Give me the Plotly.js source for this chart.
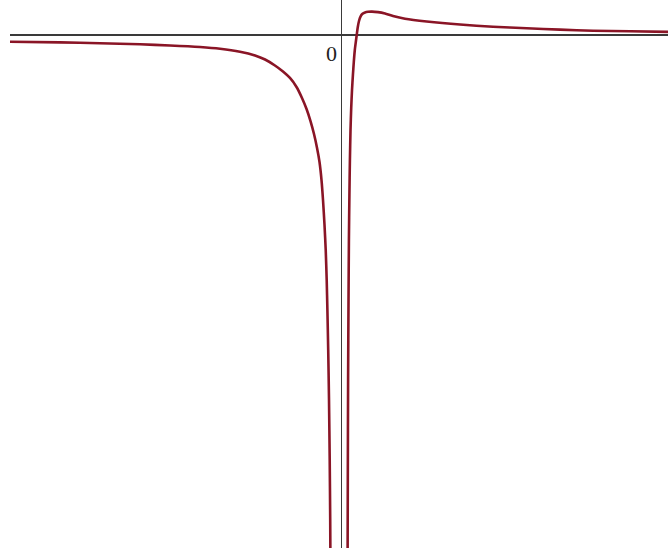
<!DOCTYPE html>
<html>
<head>
<meta charset="utf-8">
<script src="https://cdn.plot.ly/plotly-3.0.1.min.js"></script>
<style>
  html, body { margin: 0; padding: 0; background: #fff; }
  #plot { width: 668px; height: 548px; }
</style>
</head>
<body>
<div id="plot"></div>
<script>
// Left branch (x < 0): approaches 0 from below, plunges to -inf at the asymptote
const leftX = [-21.81, -18.52, -15.89, -13.26, -11.28, -9.31, -7.99, -6.68, -5.69, -5.03,
               -4.38, -3.85, -3.39, -2.96, -2.60, -2.30, -2.04, -1.81, -1.61, -1.447,
               -1.316, -1.217, -1.118, -1.039, -0.974, -0.928, -0.875, -0.822, -0.776, -0.743,
               -0.717];
const leftY = [-0.072, -0.079, -0.089, -0.100, -0.112, -0.129, -0.148, -0.180, -0.220, -0.263,
               -0.327, -0.392, -0.461, -0.558, -0.676, -0.794, -0.923, -1.062, -1.212, -1.362,
               -1.556, -1.770, -2.039, -2.307, -2.629, -2.951, -3.380, -3.916, -4.560, -5.204,
               -6.062];

// Right branch (x > 0): rises from -inf, crosses zero, peaks, then decays toward 0
const rightX = [0.395, 0.414, 0.434, 0.461, 0.487, 0.520, 0.553, 0.592, 0.638, 0.691,
                0.750, 0.809, 0.875, 0.941, 1.000, 1.072, 1.151, 1.250, 1.382, 1.546,
                1.743, 2.007, 2.401, 2.862, 3.388, 4.178, 5.605, 7.796, 9.967, 12.18,
                14.375, 16.55, 18.98, 21.48];
const rightY = [-6.062, -4.775, -3.702, -2.843, -2.200, -1.717, -1.341, -1.019, -0.783, -0.590,
                -0.429, -0.290, -0.161, -0.075, 0.000, 0.086, 0.150, 0.198, 0.227, 0.242,
                0.249, 0.251, 0.245, 0.230, 0.204, 0.175, 0.145, 0.112, 0.089, 0.072,
                0.058, 0.046, 0.040, 0.034];

const curveColor = '#8a1526';
const lineStyle = { color: curveColor, width: 2.6, shape: 'spline', smoothing: 0.6 };

const traces = [
  { x: leftX, y: leftY, mode: 'lines', line: lineStyle, hoverinfo: 'skip' },
  { x: rightX, y: rightY, mode: 'lines', line: lineStyle, hoverinfo: 'skip' }
];

const axisCommon = {
  showgrid: false,
  showticklabels: false,
  ticks: '',
  showline: false,
  zeroline: true,
  zerolinecolor: '#3a3a3a',
  zerolinewidth: 1.9,
  fixedrange: true
};

const layout = {
  width: 668,
  height: 548,
  margin: { l: 10, r: 0, t: 0, b: 0, pad: 0 },
  paper_bgcolor: '#fff',
  plot_bgcolor: '#fff',
  showlegend: false,
  xaxis: Object.assign({}, axisCommon, { range: [-21.81, 21.48] }),
  yaxis: Object.assign({}, axisCommon, { range: [-5.504, 0.3755] }),
  annotations: [{
    text: '0', x: -0.69, y: -0.199, xref: 'x', yref: 'y',
    xanchor: 'center', yanchor: 'middle', showarrow: false,
    font: { family: 'Liberation Serif, Times New Roman, serif', size: 22, color: '#222' }
  }]
};

Plotly.newPlot('plot', traces, layout, { staticPlot: true, displayModeBar: false });
</script>
</body>
</html>
